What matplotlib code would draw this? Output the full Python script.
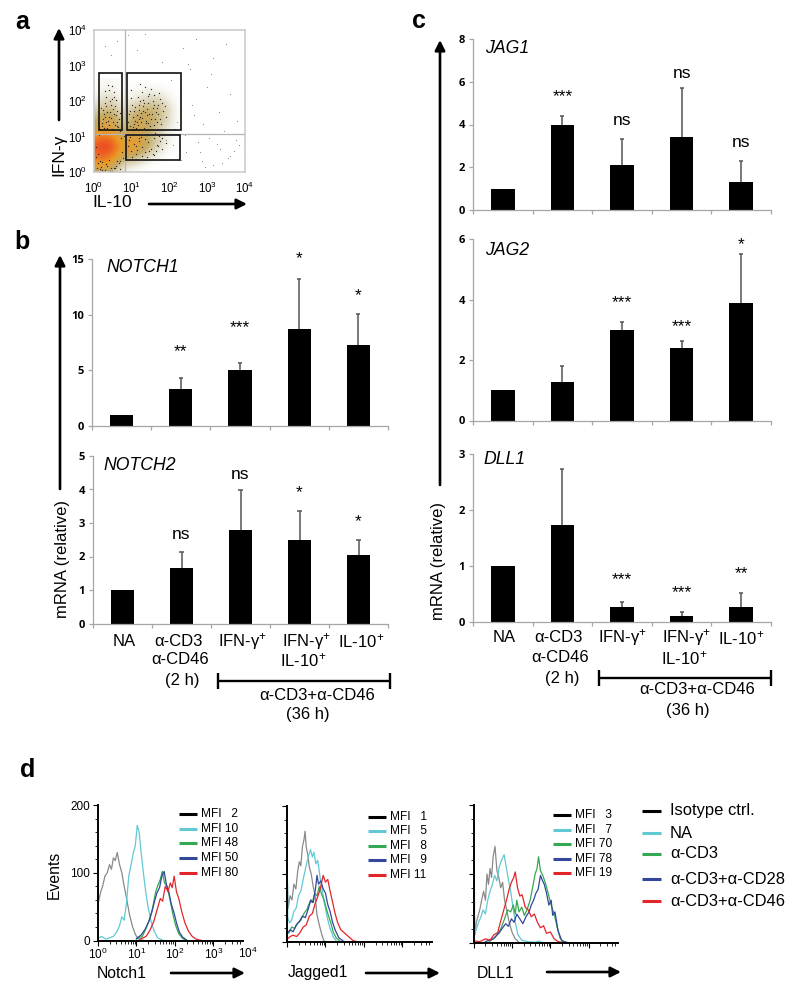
import numpy as np
import matplotlib
matplotlib.use("Agg")
import matplotlib.pyplot as plt
from matplotlib.colors import LinearSegmentedColormap
from matplotlib.patches import Rectangle

plt.rcParams['font.family'] = ['Liberation Sans', 'DejaVu Sans']
plt.rcParams['mathtext.default'] = 'regular'

# ---------- data ----------
NOTCH1 = [1, 3.3, 5.0, 8.75, 7.3]
NOTCH1_top = [1, 4.3, 5.7, 13.2, 10.1]
NOTCH1_sig = ['', '**', '***', '*', '*']
NOTCH1_sig_y = [0, 6.65, 8.85, 15.05, 11.7]

NOTCH2 = [1, 1.65, 2.78, 2.48, 2.05]
NOTCH2_top = [1, 2.13, 3.98, 3.35, 2.5]
NOTCH2_sig = ['', 'ns', 'ns', '*', '*']
NOTCH2_sig_y = [0, 2.65, 4.45, 3.9, 3.03]

JAG1 = [1, 4.0, 2.1, 3.4, 1.3]
JAG1_top = [1, 4.4, 3.3, 5.7, 2.3]
JAG1_sig = ['', '***', 'ns', 'ns', 'ns']
JAG1_sig_y = [0, 5.3, 4.2, 6.4, 3.15]

JAG2 = [1, 1.27, 3.0, 2.4, 3.87]
JAG2_top = [1, 1.8, 3.25, 2.62, 5.5]
JAG2_sig = ['', '', '***', '***', '*']
JAG2_sig_y = [0, 0, 3.9, 3.1, 5.82]

DLL1 = [1, 1.74, 0.26, 0.11, 0.27]
DLL1_top = [1, 2.73, 0.35, 0.17, 0.52]
DLL1_sig = ['', '', '***', '***', '**']
DLL1_sig_y = [0, 0, 0.75, 0.52, 0.86]

# flow plot a: density read on a 0.25-decade grid (rows: IFN-g, cols: IL-10)
dens = [
 [.25,.35,.15,.03,.00,.00,.00,.00,.00,.00,.00],
 [.55,.60,.45,.15,.10,.05,.00,.00,.00,.00,.00],
 [.70,.85,.70,.40,.38,.25,.10,.03,.00,.00,.00],
 [.80,1.0,.85,.50,.60,.45,.25,.10,.02,.00,.00],
 [.55,.70,.60,.35,.45,.38,.25,.10,.02,.00,.00],
 [.35,.45,.42,.18,.38,.38,.28,.15,.05,.00,.00],
 [.22,.42,.38,.12,.30,.40,.32,.22,.08,.00,.00],
 [.12,.22,.22,.06,.18,.25,.28,.22,.08,.00,.00],
 [.04,.12,.12,.03,.06,.10,.15,.12,.04,.00,.00],
 [.00,.05,.05,.01,.02,.03,.05,.03,.01,.00,.00],
 [.00,.02,.02,.00,.00,.00,.00,.00,.00,.00,.00],
]
cluster_x = [.22,.30,.35,.42,.50,.55,.62,.28,.38,.47,.58,.66,.25,.33,.44,.52,.60,.36,.48,.56,
             .95,1.02,1.10,1.18,1.25,1.33,1.40,1.48,1.55,1.62,1.70,1.78,1.00,1.08,1.16,1.24,1.32,1.42,1.52,1.64,
             .98,1.06,1.14,1.22,1.30,1.38,1.46,1.56,1.66,1.12,1.20,1.28,1.36,1.44,
             .92,.98,1.05,1.12,1.20,1.28,1.36,1.44,1.52,1.60,1.68,1.76,1.00,1.10,1.18,1.26,1.34,1.46,
             .10,.18,.75,.80,.70,.12,.68,.78,.06,.16,.72,
             .15,.20,.27,.32,.40,.46,.53,.61,.68,.19,.24,.31,.41,.51,.63,.26,.34,.43,.54,.29,.39,.49,.59,
             .90,.96,1.04,1.09,1.17,1.23,1.31,1.39,1.47,1.58,1.69,1.76,1.83,1.92,1.88,1.74,1.60,1.50,1.35,1.21,
             .94,1.03,1.13,1.26,1.41,1.53,1.67,1.81,.97,1.07,1.19,1.29,1.43,1.59,1.72,
             1.62,1.72,1.80,1.70,1.58,1.90,.90,.95,1.15,1.25,1.40,1.55,1.65,1.80,
             .08,.20,.32,.45,.58,.70,.05,.15,.28,.40,.52,.65,.35,.48,.60,.22,.10,.42,.55]
cluster_y = [1.30,1.55,1.25,1.70,1.40,1.85,1.30,1.95,1.45,1.20,1.60,1.50,1.75,2.10,1.90,2.25,1.72,2.45,2.05,1.32,
             1.30,1.55,1.25,1.75,1.40,1.95,1.60,1.30,1.80,1.50,1.90,1.35,1.90,1.45,2.10,1.65,1.25,2.15,1.50,1.70,
             2.30,1.35,1.60,2.00,1.85,1.45,2.20,2.00,1.40,1.22,1.50,2.25,1.70,1.95,
             .90,.60,.80,.50,.95,.70,.55,.85,.65,.95,.75,.88,.42,.72,.88,.45,.92,.60,
             .25,.15,.55,1.00,.30,1.05,1.15,.40,.70,.08,.95,
             1.22,1.38,1.62,1.42,1.33,1.52,1.63,1.42,1.65,1.80,1.48,1.85,1.55,1.78,1.28,1.25,1.68,2.00,2.12,2.28,2.30,2.42,2.02,
             1.42,1.72,1.28,1.82,1.33,1.55,1.72,1.38,1.62,1.32,1.62,1.48,1.72,1.55,1.85,2.05,2.18,2.35,2.40,2.48,
             1.62,1.18,1.40,1.52,1.78,1.62,1.80,1.95,2.08,1.72,1.88,2.02,1.38,1.90,2.22,
             1.10,1.02,.95,.72,.48,.82,.72,.98,.62,.98,.42,.52,.58,.65,
             .12,.05,.22,.10,.18,.08,.42,.30,.06,.34,.12,.24,.16,.04,.32,.28,.50,.02,.10]
stray_x = [.45,.60,1.15,1.80,2.05,2.35,2.55,2.70,2.85,3.00,3.15,3.30,3.50,3.70,2.20,2.60,2.90,3.25,3.60,
           2.45,2.75,3.05,3.40,3.80,1.90,2.10,2.50,3.10,3.55,2.30,2.95,3.35,3.75,.90,1.35,.30,
           2.40,2.80,3.60,3.85,3.45,3.15,2.15,2.65]
stray_y = [3.30,3.70,3.45,3.10,2.60,3.50,2.90,3.75,.30,2.40,3.20,1.70,3.60,.60,1.40,1.90,1.35,.80,2.20,
           .55,.85,.95,.25,1.45,.90,.75,3.05,2.75,.40,.35,.15,.65,.90,3.85,3.90,3.55,
           1.05,.55,.45,.75,1.15,.20,1.20,1.60]
gates_x = [(.14,.73), (.88,2.31), (.86,2.28)]
gates_y = [(1.18,2.79), (1.18,2.79), (.33,1.03)]
a_ticks = [0, 1, 2, 3, 4]

# histograms of panel d: (log10 intensity, events)
n1_iso = ([.02,.07,.12,.18,.24,.30,.35,.40,.45,.50,.56,.62,.68,.75,.82,.90,.98,1.06,1.2],
          [58,72,80,95,100,112,105,122,118,130,112,100,80,60,38,20,8,2,0])
n1_na = ([0,.1,.2,.3,.4,.5,.56,.62,.68,.74,.8,.86,.92,.97,1.02,1.07,1.12,1.18,1.24,1.3,1.38,1.46,1.55,1.7],
         [3,6,2,4,6,14,22,35,30,55,95,112,130,140,170,160,130,100,72,50,28,14,4,0])
n1_cd3 = ([1.0,1.15,1.25,1.35,1.42,1.5,1.56,1.62,1.67,1.73,1.8,1.88,1.95,2.02,2.1,2.2,2.3],
          [2,6,18,32,48,72,82,90,102,85,80,58,38,22,10,3,0])
n1_cd28 = ([1.0,1.12,1.22,1.32,1.4,1.47,1.53,1.6,1.66,1.72,1.78,1.84,1.9,1.98,2.05,2.12,2.2,2.32],
           [3,8,16,28,42,58,70,78,95,102,82,72,55,40,24,12,5,0])
n1_cd46 = ([1.1,1.25,1.35,1.45,1.55,1.62,1.68,1.75,1.82,1.88,1.93,1.98,2.04,2.1,2.18,2.26,2.35,2.45,2.55,2.7],
           [2,6,15,28,48,62,58,80,72,85,78,95,72,62,42,26,14,6,2,0])

j1_iso = ([.005,.03,.08,.13,.18,.23,.28,.32,.36,.4,.44,.47,.5,.54,.58,.63,.68,.73,.78,.84,.9,.95,1.0],
          [100,50,68,62,85,78,105,118,112,140,150,163,140,128,110,100,82,68,40,25,12,3,0])
j1_na = ([.005,.02,.07,.12,.18,.24,.3,.36,.42,.47,.52,.57,.61,.66,.7,.75,.8,.86,.92,.98,1.05,1.12,1.2,1.3],
         [125,35,28,32,45,50,68,75,92,105,118,128,136,125,132,115,120,95,75,55,35,20,8,0])
j1_cd3 = ([0,.06,.12,.2,.28,.36,.44,.52,.6,.66,.72,.78,.84,.9,.96,1.02,1.08,1.14,1.2,1.28,1.4],
          [12,14,22,20,28,32,42,48,60,58,72,68,82,70,62,50,38,28,15,6,0])
j1_cd28 = ([0,.08,.16,.24,.32,.4,.48,.56,.62,.68,.74,.78,.82,.88,.94,1,1.06,1.12,1.18,1.25,1.35,1.5],
           [12,18,15,25,30,38,36,50,62,58,78,98,85,90,78,72,55,45,30,18,6,0])
j1_cd46 = ([0,.08,.16,.25,.34,.42,.5,.58,.66,.74,.82,.88,.94,1,1.06,1.12,1.18,1.25,1.32,1.4,1.48,1.56,1.64,1.72,1.85],
           [4,8,10,8,14,22,25,38,42,58,70,82,98,88,92,75,60,42,28,18,14,10,6,2,0])

d1_iso = ([.005,.02,.06,.1,.15,.2,.25,.3,.34,.38,.42,.46,.5,.55,.6,.65,.7,.75,.8,.85,.92,1,1.08,1.2],
          [60,12,30,38,48,62,75,62,100,85,108,95,125,140,105,95,80,88,62,50,30,15,6,0])
d1_na = ([.005,.02,.06,.12,.18,.24,.3,.36,.42,.48,.54,.6,.66,.72,.79,.85,.9,.96,1.02,1.08,1.15,1.25,1.4,1.6,1.7,1.76,1.85],
         [120,12,20,30,38,48,42,62,75,85,98,90,110,120,128,108,92,75,52,30,12,4,2,1,3,1,0])
d1_cd3 = ([.4,.55,.7,.8,.88,.96,1.03,1.08,1.12,1.18,1.25,1.32,1.4,1.47,1.54,1.6,1.65,1.69,1.74,1.8,1.88,1.95,2.02,2.1,2.18,2.26,2.4],
          [2,8,20,35,48,45,55,42,62,45,52,40,50,62,82,100,108,125,105,98,85,70,55,42,22,6,0])
d1_cd28 = ([.3,.5,.65,.75,.83,.9,.98,1.05,1.12,1.2,1.28,1.36,1.44,1.5,1.56,1.62,1.68,1.74,1.78,1.84,1.9,1.96,2.02,2.06,2.12,2.2,2.3,2.5],
           [2,6,14,22,28,24,35,30,42,35,28,38,45,55,62,72,78,98,92,85,72,55,62,40,45,18,3,0])
d1_cd46 = ([0,.15,.3,.42,.52,.62,.7,.78,.85,.92,.98,1.04,1.08,1.14,1.2,1.26,1.34,1.42,1.5,1.58,1.66,1.74,1.82,1.9,2,2.1,2.2,2.4],
           [3,2,6,4,12,15,32,48,62,78,88,95,103,80,68,70,52,48,38,42,30,22,25,14,16,6,2,0])

series_names = ['Isotype ctrl.', 'NA', 'α-CD3', 'α-CD3+α-CD28', 'α-CD3+α-CD46']
mfi_n1 = ['MFI   2', 'MFI 10', 'MFI 48', 'MFI 50', 'MFI 80']
mfi_j1 = ['MFI   1', 'MFI   5', 'MFI   8', 'MFI   9', 'MFI 11']
mfi_d1 = ['MFI   3', 'MFI   7', 'MFI 70', 'MFI 78', 'MFI 19']

COL = ['#8a8a8a', '#62c8d2', '#35a853', '#33479b', '#e1252b']
LEG = ['#000000', '#62c8d2', '#35a853', '#33479b', '#e1252b']

# ---------- helpers ----------
W, H = 800, 998
fig = plt.figure(figsize=(8, 9.98), dpi=100)

def axpx(l, t, r, b, **kw):
    return fig.add_axes([l / W, 1 - b / H, (r - l) / W, (b - t) / H], **kw)

ov = axpx(0, 0, W, H)
ov.set_xlim(0, W); ov.set_ylim(H, 0); ov.axis('off'); ov.set_zorder(5)
ov.patch.set_alpha(0)

def arrow(x0, y0, x1, y1):
    ov.annotate('', xy=(x1, y1), xytext=(x0, y0),
                arrowprops=dict(arrowstyle='-|>', lw=1.9, color='black', mutation_scale=15,
                                shrinkA=0, shrinkB=0))

def T(x, y, s, size=12, ha='center', va='center', **kw):
    ov.text(x, y, s, fontsize=size, ha=ha, va=va, **kw)

# ---------- bar panels ----------
GR = '#a6a6a6'
def bars(l, t, r, b, vals, tops, ymax, step, sig, sigy):
    ax = axpx(l, t, r, b)
    x = np.arange(5) + .5
    ax.bar(x, vals, width=.395, color='black', zorder=2)
    ax.vlines(x[1:], np.array(vals[1:]), np.array(tops[1:]), color='#555555', lw=1.1, zorder=1)
    ax.hlines(tops[1:], x[1:] - .035, x[1:] + .035, color='#555555', lw=1.1, zorder=1)
    ax.set_xlim(0, 5); ax.set_ylim(0, ymax)
    for s in ('top', 'right'):
        ax.spines[s].set_visible(False)
    for s in ('left', 'bottom'):
        ax.spines[s].set_color(GR); ax.spines[s].set_linewidth(0.9)
    ax.set_xticks(range(6)); ax.set_xticklabels([])
    ax.set_yticks(np.arange(0, ymax + .01, step))
    ax.tick_params(axis='x', length=3, color=GR, width=.9)
    ax.tick_params(axis='y', length=3, color=GR, width=.9, pad=3, labelsize=8)
    for lab in ax.get_yticklabels():
        lab.set_fontweight('bold'); lab.set_family(['Open Sans', 'Liberation Sans'])
    for xi, s, yi in zip(x, sig, sigy):
        if s:
            ax.text(xi, yi, s, ha='center', va='center', clip_on=False,
                    fontsize=12.5, zorder=4)
    return ax

bars(92, 259, 388, 426, NOTCH1, NOTCH1_top, 15, 5, NOTCH1_sig, NOTCH1_sig_y)
bars(93, 456, 388, 623.5, NOTCH2, NOTCH2_top, 5, 1, NOTCH2_sig, NOTCH2_sig_y)
bars(473, 39, 771, 210, JAG1, JAG1_top, 8, 2, JAG1_sig, JAG1_sig_y)
bars(473, 239, 771, 420.5, JAG2, JAG2_top, 6, 2, JAG2_sig, JAG2_sig_y)
bars(473, 454, 771, 622, DLL1, DLL1_top, 3, 1, DLL1_sig, DLL1_sig_y)

for x, y, s in [(106, 268, 'NOTCH1'), (103, 466, 'NOTCH2'), (485, 48, 'JAG1'),
                (485, 250, 'JAG2'), (483, 460, 'DLL1')]:
    T(x, y, s, size=12.7, ha='left', style='italic')

plus = '$^{+}$'
T(124, 641, 'NA')
T(178, 641, 'α-CD3'); T(180, 660, 'α-CD46'); T(182, 680, '(2 h)')
T(243, 641, 'IFN-γ' + plus); T(307, 641, 'IFN-γ' + plus); T(303, 660, 'IL-10' + plus)
T(361, 641, 'IL-10' + plus)
T(504, 638, 'NA'); T(558, 638, 'α-CD3'); T(560, 658, 'α-CD46'); T(562, 678, '(2 h)')
T(623, 638, 'IFN-γ' + plus); T(687, 638, 'IFN-γ' + plus); T(684, 658, 'IL-10' + plus)
T(741, 638, 'IL-10' + plus)

for l, r, y in [(218, 390, 681), (599, 771, 678)]:
    ov.plot([l, r], [y, y], color='black', lw=1.7, solid_capstyle='butt')
    ov.plot([l, l], [y - 8, y + 8], color='black', lw=1.7, solid_capstyle='butt')
    ov.plot([r, r], [y - 8, y + 8], color='black', lw=1.7, solid_capstyle='butt')
T(317, 695, 'α-CD3+α-CD46'); T(308, 715, '(36 h)')
T(697, 690, 'α-CD3+α-CD46'); T(688, 710, '(36 h)')

arrow(60, 489, 60, 255)
arrow(440, 485, 440, 40)
T(62, 559, 'mRNA (relative)', 12, rotation=90)
T(438, 561, 'mRNA (relative)', 12, rotation=90)

# ---------- panel a ----------
cmap = LinearSegmentedColormap.from_list('flow', [
    (0, '#ffffff'), (.1, '#e2ddc8'), (.3, '#c4ab66'), (.55, '#eb9a25'), (.8, '#ee5f22'), (1, '#e53d22')])
axa = axpx(94, 30, 245, 172)
axa.imshow(np.array(dens), origin='lower', extent=(-.125, 2.625, -.125, 2.625), cmap=cmap,
           vmin=0, vmax=1, aspect='auto', interpolation='bicubic', zorder=1)
axa.scatter(cluster_x, cluster_y, s=0.9, color='#2a2a2a', linewidths=0, zorder=2)
axa.scatter(stray_x, stray_y, s=0.7, color='#8a8a8a', linewidths=0, zorder=2)
axa.axvline(.82, color='#b5b5b5', lw=.9, zorder=3)
axa.axhline(1.08, color='#b5b5b5', lw=.9, zorder=3)
for (x0, x1), (y0, y1) in zip(gates_x, gates_y):
    axa.add_patch(Rectangle((x0, y0), x1 - x0, y1 - y0, fill=False, ec='#111111', lw=1.2, zorder=4))
axa.set_xlim(0, 4); axa.set_ylim(0, 4)
axa.set_xticks(a_ticks); axa.set_yticks(a_ticks)
axa.set_xticklabels([f'$10^{{{t}}}$' for t in a_ticks])
axa.set_yticklabels([f'$10^{{{t}}}$' for t in a_ticks])
axa.tick_params(axis='x', length=0, labelsize=8.3, pad=6)
axa.tick_params(axis='y', length=0, labelsize=8.3, pad=5)
for s in axa.spines.values():
    s.set_color('#c8c8c8'); s.set_linewidth(1.1)
T(59, 155, 'IFN-γ', 12.5, rotation=90)
T(112, 202, 'IL-10', 12.5)
arrow(59, 120, 59, 28)
arrow(149, 204, 247, 204)

# ---------- panel letters ----------
for x, y, s in [(22, 22, 'a'), (22, 242, 'b'), (419, 21, 'c'), (28, 770, 'd')]:
    T(x, y, s, 18, fontweight='bold')

# ---------- panel d ----------
def hist(l, t, r, b, curves, xlim, labels=False):
    ax = axpx(l, t, r, b)
    for (xs, ys), c in zip(curves, COL):
        ax.plot(xs, ys, color=c, lw=.9, clip_on=False)
    ax.set_xlim(0, xlim); ax.set_ylim(0, 200)
    for s in ('top', 'right'):
        ax.spines[s].set_visible(False)
    ax.spines['left'].set_linewidth(1.4); ax.spines['bottom'].set_linewidth(1.4)
    dec = np.arange(0, 4)
    ax.set_xticks(dec[dec <= xlim])
    minor = [d + np.log10(k) for d in dec for k in range(2, 10) if d + np.log10(k) <= xlim]
    ax.set_xticks(minor, minor=True)
    ax.set_yticks([0, 100, 200])
    ax.set_yticks(np.arange(0, 200, 20), minor=True)
    ax.tick_params(which='major', length=3.5, width=.8, labelsize=8.5, pad=2)
    ax.tick_params(which='minor', length=2, width=.6)
    ax.tick_params(axis='x', which='major', pad=1)
    if labels:
        ax.set_xticklabels([f'$10^{{{int(t)}}}$' for t in ax.get_xticks()])
    else:
        ax.set_xticklabels([]); ax.set_yticklabels([])
    return ax

hist(98, 805, 243, 940.5, [n1_iso, n1_na, n1_cd3, n1_cd28, n1_cd46], 3.77, labels=True)
T(248, 953, '$10^{4}$', 8.5)
hist(287, 806, 432, 942, [j1_iso, j1_na, j1_cd3, j1_cd28, j1_cd46], 3.77)
hist(474, 805, 618, 943, [d1_iso, d1_na, d1_cd3, d1_cd28, d1_cd46], 3.77)

def mfi(x0, x1, xt, ys, labels):
    for y, s, c in zip(ys, labels, LEG):
        ov.plot([x0, x1], [y, y], color=c, lw=2.2, solid_capstyle='butt')
        T(xt, y, s, 8.6, ha='left')

mfi(179, 197, 201, [814, 829, 843, 858, 873], mfi_n1)
mfi(368, 386, 390, [817, 831, 846, 860, 875], mfi_j1)
mfi(553, 571, 575, [815, 830, 844, 859, 873], mfi_d1)

for y, s, c in zip([811, 833, 854, 879, 901], series_names, LEG):
    ov.plot([642, 661], [y, y], color=c, lw=2.2, solid_capstyle='butt')
    T(670, y, s, 11.9, ha='left')

T(54, 875, 'Events', 11.3, rotation=90)
T(97, 973, 'Notch1', 11.3, ha='left')
T(288, 973, 'Jagged1', 11.3, ha='left')
T(477, 973, 'DLL1', 11.3, ha='left')
arrow(171, 973, 245, 973)
arrow(366, 973, 440, 973)
arrow(547, 972, 621, 972)

fig.savefig('out.png', dpi=100)
